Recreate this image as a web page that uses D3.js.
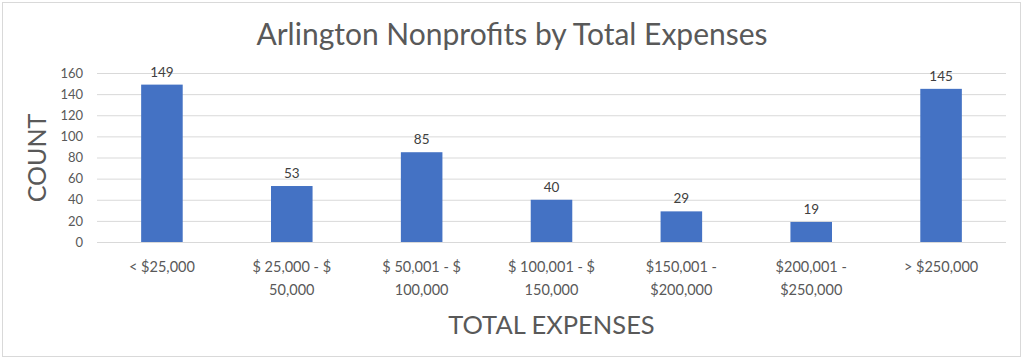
<!DOCTYPE html>
<html><head><meta charset="utf-8">
<script src="https://cdn.jsdelivr.net/npm/d3@7"></script>
<style>body{margin:0;background:#fff}svg{display:block}</style>
</head><body>
<svg id="c" width="1024" height="360"></svg>
<script>
const categories = ["< $25,000", "$ 25,000 - $ 50,000", "$ 50,001 - $ 100,000", "$ 100,001 - $ 150,000", "$150,001 - $200,000", "$200,001 - $250,000", "> $250,000"];
const labelLines = [["< $25,000"], ["$ 25,000 - $", "50,000"], ["$ 50,001 - $", "100,000"], ["$ 100,001 - $", "150,000"], ["$150,001 -", "$200,000"], ["$200,001 -", "$250,000"], ["> $250,000"]];
const counts = [149, 53, 85, 40, 29, 19, 145];
const yTicks = [0, 20, 40, 60, 80, 100, 120, 140, 160];

const font = "Lato, 'Open Sans', sans-serif";
const grey = "#595959";
const svg = d3.select("#c");
svg.append("rect").attr("x", 2.5).attr("y", 2.5).attr("width", 1018).attr("height", 354)
  .attr("fill", "#fff").attr("stroke", "#d9d9d9");

const m = {l: 97, r: 1006, t: 73, b: 242};
const x = d3.scaleBand().domain(categories).range([m.l, m.r]).paddingInner(0.68).paddingOuter(0.34);
const y = d3.scaleLinear().domain([0, 160]).range([m.b, m.t]);

const yAxis = svg.append("g").attr("transform", `translate(${m.l},0)`)
  .call(d3.axisLeft(y).tickValues(yTicks).tickSize(-(m.r - m.l)).tickPadding(14));
yAxis.select(".domain").remove();
yAxis.selectAll(".tick line").attr("stroke", "#d9d9d9").attr("stroke-width", 1);
yAxis.selectAll(".tick text").attr("fill", grey).attr("font-family", font).attr("font-size", 13);

svg.append("g").selectAll("rect").data(counts).join("rect")
  .attr("x", (d, i) => x(categories[i])).attr("width", x.bandwidth())
  .attr("y", d => y(d)).attr("height", d => y(0) - y(d)).attr("fill", "#4472C4");

svg.append("g").selectAll("text").data(counts).join("text")
  .attr("x", (d, i) => x(categories[i]) + x.bandwidth() / 2).attr("y", d => y(d) - 8)
  .attr("text-anchor", "middle").attr("fill", "#404040").attr("font-family", font).attr("font-size", 13.5)
  .text(d => d);

const xl = svg.append("g").selectAll("text").data(labelLines).join("text")
  .attr("text-anchor", "middle").attr("fill", grey).attr("font-family", font).attr("font-size", 14.5);
xl.each(function(lines, i) {
  const cx = x(categories[i]) + x.bandwidth() / 2;
  d3.select(this).selectAll("tspan").data(lines).join("tspan")
    .attr("x", cx).attr("y", (d, j) => 272 + j * 23).text(d => d);
});

svg.append("text").attr("x", 512).attr("y", 45).attr("text-anchor", "middle")
  .attr("fill", grey).attr("font-family", font).attr("font-size", 30).text("Arlington Nonprofits by Total Expenses");
svg.append("text").attr("transform", "translate(46,158) rotate(-90)").attr("text-anchor", "middle")
  .attr("fill", grey).attr("font-family", font).attr("font-size", 25).text("COUNT");
svg.append("text").attr("x", (m.l + m.r) / 2).attr("y", 334).attr("text-anchor", "middle")
  .attr("fill", grey).attr("font-family", font).attr("font-size", 25.5).text("TOTAL EXPENSES");
</script>
</body></html>
